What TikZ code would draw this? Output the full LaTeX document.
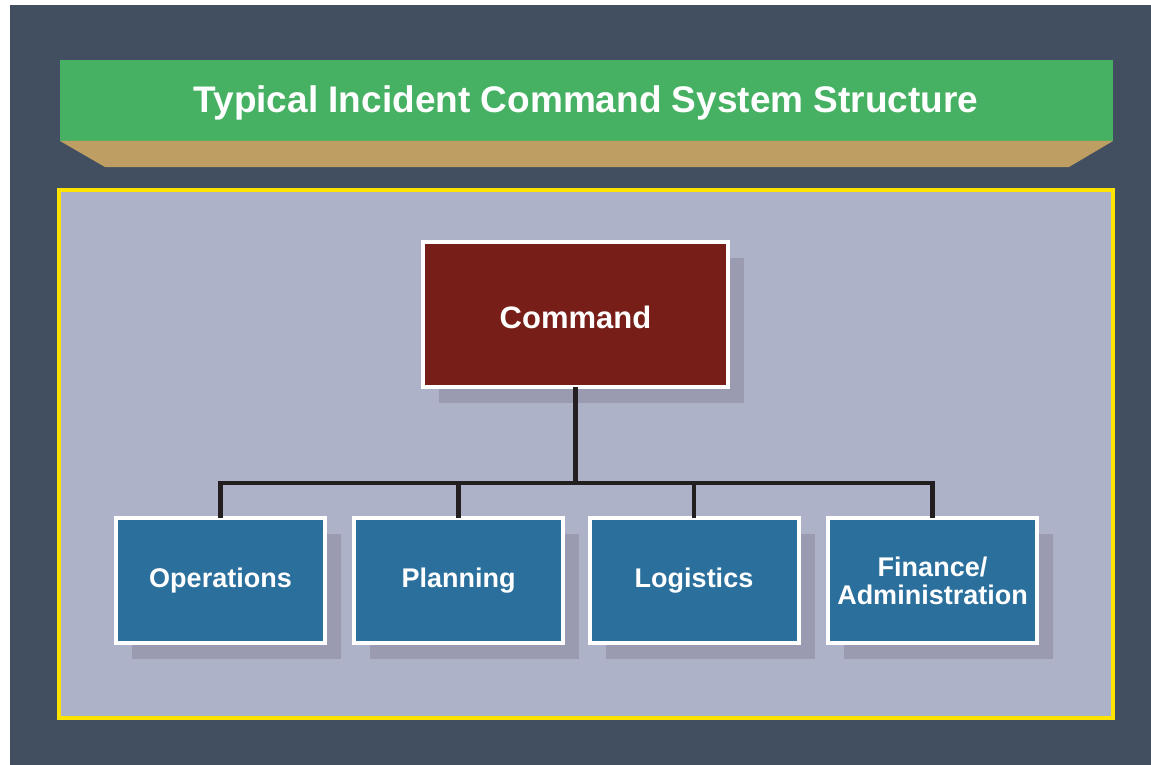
\documentclass[tikz,border=0pt]{standalone}
\usepackage{fontspec}
\setmainfont{Liberation Sans}
\usetikzlibrary{shadows}
\definecolor{bgdark}{HTML}{424F60}
\definecolor{bannergreen}{HTML}{46B163}
\definecolor{bannertan}{HTML}{BE9E62}
\definecolor{panellav}{HTML}{ADB2C8}
\definecolor{panelyellow}{HTML}{FFE300}
\definecolor{cmdred}{HTML}{771E18}
\definecolor{boxblue}{HTML}{2B6F9D}
\definecolor{shadowc}{HTML}{9A9BB0}
\definecolor{linec}{HTML}{231F20}
\tikzset{
  orgbox/.style={rectangle, draw=white, line width=4pt, outer sep=0pt, inner sep=0pt,
    text=white, align=center,
    drop shadow={shadow xshift=16pt, shadow yshift=-16pt, fill=shadowc, opacity=1}},
  cmdbox/.style={orgbox, fill=cmdred, minimum width=305pt, minimum height=145pt,
    font=\fontsize{31}{36}\selectfont\bfseries, text height=28pt, text depth=0pt},
  unitbox/.style={orgbox, fill=boxblue, minimum width=209pt, minimum height=125pt,
    font=\fontsize{27}{28}\selectfont\bfseries},
  conn/.style={draw=linec, line width=4.5pt},
}
\begin{document}
\begin{tikzpicture}[x=1pt,y=-1pt]
\useasboundingbox (0,0) rectangle (1151,765);
\fill[white] (0,0) rectangle (1151,765);
\fill[bgdark] (10,5) rectangle (1151,765);
% banner
\fill[bannergreen] (60,60) rectangle (1113,141);
\fill[bannertan] (60,141) -- (1113,141) -- (1069,167) -- (105,167) -- cycle;
\node[text=white, font=\fontsize{37}{40}\selectfont\bfseries] (title) at (586,103) {Typical Incident Command System Structure};
% panel
\draw[panelyellow, line width=4pt, fill=panellav] (59,190) rectangle (1113,718);
% nodes
\node[cmdbox] (cmd) at (575.5,314.5) {Command};
\node[unitbox] (ops) at (220.5,580.5) {Operations};
\node[unitbox] (plan) at (458.5,580.5) {Planning};
\node[unitbox] (log) at (694,580.5) {Logistics};
\node[unitbox] (fin) at (932.5,580.5) {Finance/\\Administration};
% connectors
\coordinate (bus) at (575.5,483);
\draw[conn] (cmd.south) -- (bus);
\draw[conn, line join=miter] (ops.north) |- (bus) -| (fin.north);
\draw[conn] (plan.north) -- (plan.north |- bus);
\draw[conn] (log.north) -- (log.north |- bus);
\end{tikzpicture}
\end{document}
